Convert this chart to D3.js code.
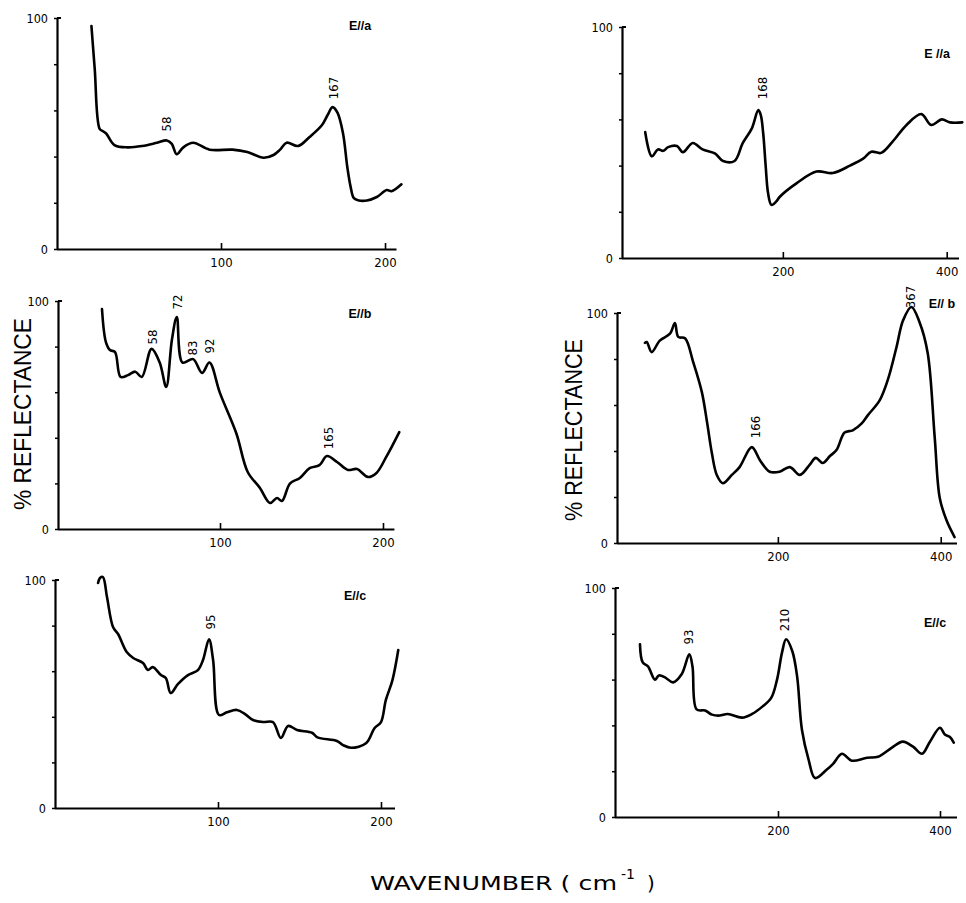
<!DOCTYPE html>
<html><head><meta charset="utf-8">
<script src="https://cdn.jsdelivr.net/npm/d3@7"></script>
<style>
body{margin:0;background:#fff;}
svg{display:block;}
text{fill:#000;}
</style></head>
<body>
<svg id="chart" width="966" height="903"></svg>
<script>
// ---------- DATA (wavenumber cm^-1, % reflectance) ----------
const waveLeftA = [21, 23, 26, 28, 30, 35, 43, 52, 61, 67, 70, 73, 77, 83, 93, 107, 116, 126, 132, 136, 140, 147, 154, 161.6, 165, 168, 171, 174.4, 177, 179, 181, 184, 189, 195, 201, 204, 210];
const reflLeftA = [96.5, 78, 52, 51, 50, 45, 44, 44.6, 46, 47, 45.5, 41, 44, 46, 43, 43, 42, 39.5, 40.7, 43, 46, 44.6, 48.5, 53.7, 58, 61.4, 59, 50, 35.5, 27, 22, 21, 21, 22.5, 25.5, 25, 28];

const waveRightA = [32, 40, 47.6, 54, 60, 70.7, 78, 90, 102, 117, 127, 141, 151, 162, 170, 173, 176, 179, 182, 186, 192, 196, 217, 241, 261, 282, 298, 308, 320, 334, 351, 369, 381, 394, 404, 419];
const reflRightA = [54.5, 44, 47, 46.4, 48, 48.5, 45.8, 49.8, 47, 45.3, 42, 42, 49.7, 56, 64, 62, 54, 40, 28, 23, 24.5, 26.4, 32.4, 37.4, 36.8, 40, 43, 46, 45.5, 50.4, 57.6, 62.3, 57.6, 60, 58.7, 58.7];

const waveLeftB = [27.6, 30, 32.5, 35.6, 39, 43.6, 48, 52, 58, 63, 67, 70.5, 73.5, 77, 83.5, 89, 93.5, 100, 110, 117, 124.5, 130.7, 135, 138, 143, 149, 155, 161, 165.6, 171.8, 178.5, 184, 190.8, 196, 202, 210];
const reflLeftB = [96.5, 82, 78.5, 77.6, 66.7, 67.5, 69, 66.7, 79, 73, 62.3, 83, 93, 73, 74.5, 68.4, 73, 59.6, 42, 25, 18, 11.4, 13.6, 12.3, 20, 22.4, 26.7, 28, 32, 29.4, 25.9, 26.3, 22.8, 24.6, 31.6, 42.5];

const waveRightB = [36.8, 39, 45, 55, 67.5, 73.6, 77.7, 86, 96, 106.6, 113, 119, 125, 132.5, 143.5, 153, 168, 178, 190, 202, 214.7, 227, 239, 246.6, 255, 264, 272, 282, 292, 303, 310.6, 325, 335, 345.6, 353.8, 364, 374, 384, 392.6, 398.8, 407, 417];
const reflRightB = [87, 87.4, 83, 88, 91, 95.6, 89.6, 89, 78.7, 65.7, 52.6, 39, 29.6, 26, 29.6, 33, 41.7, 36, 31, 31, 33, 29.6, 34, 37, 34.8, 37.8, 40.4, 48, 49, 52, 55.6, 62, 70.9, 85, 96.8, 102.6, 96, 82.6, 46, 19.6, 10, 2.6];

const waveLeftC = [26.4, 27.6, 29.4, 31.9, 35.6, 38.7, 44, 48, 54, 57, 60, 65, 68, 71, 75.5, 81.6, 87.7, 90.8, 94.5, 97, 100.6, 105.5, 111.6, 116.6, 121.5, 127.6, 133.7, 138.6, 143, 148.5, 157.7, 161, 173, 176.7, 181.6, 191, 196, 200, 203, 207, 210.6];
const reflLeftC = [98.7, 100.9, 101.3, 92.5, 79.4, 76.3, 68.4, 65.8, 63.6, 60.5, 61.8, 58.3, 57, 50.4, 54.4, 58.3, 60.5, 64.9, 74, 64.9, 40.8, 42, 43, 41.2, 38.6, 37.7, 37.7, 30.7, 36, 34.2, 33, 31, 29.4, 27.6, 26.4, 28.5, 35, 37.7, 47.4, 56, 69.3];

const waveRightC = [29.6, 33, 39.5, 48, 53, 60.5, 70.4, 81, 90.5, 94.4, 99.5, 110, 118.5, 128, 138, 155.6, 168, 180.7, 191.6, 198.8, 205, 210, 217.7, 223.6, 229.6, 237.8, 245.8, 260, 268, 279, 291, 310, 323.5, 340.7, 354, 366.7, 377.8, 387.6, 400, 406, 412, 417];
const reflRightC = [75.4, 67.5, 65.8, 60, 61.8, 61, 58.8, 62.3, 71, 65.8, 47, 46.5, 44.7, 44.3, 45, 43.4, 45, 48.2, 52, 60, 71.9, 77.6, 72.4, 61.4, 38, 25, 17, 20.6, 23.2, 27.6, 24.6, 25.9, 26.3, 30.3, 32.9, 30.7, 27.6, 32.9, 39, 36, 35, 32.5];

const xTicksLeft = [100, 200];
const xTicksRight = [200, 400];
const yTicks = [0, 20, 40, 60, 80, 100];
const yTickLabels = {0: "0", 100: "100"};

const panelTitles = ["E//a", "E //a", "E//b", "E// b", "E//c", "E//c"];
const peaksLeftA = ["58", "167"];
const peaksRightA = ["168"];
const peaksLeftB = ["58", "72", "83", "92", "165"];
const peaksRightB = ["166", "367"];
const peaksLeftC = ["95"];
const peaksRightC = ["93", "210"];

const yTitle = "% REFLECTANCE";
const xTitle = "WAVENUMBER ( cm";
const xTitleSup = "-1";
const xTitleEnd = ")";

// ---------- LAYOUT ----------
const svg = d3.select("#chart");
const tickFont = "'Liberation Sans Narrow','DejaVu Sans Condensed','Liberation Sans',sans-serif";
const labelFont = "'Liberation Sans','DejaVu Sans',sans-serif";

const panels = [
  {wave: waveLeftA, refl: reflLeftA, xd: [0, 207], xr: [57, 396.5], yr: [249, 18], yAxisX: 57, xticks: xTicksLeft,
   title: panelTitles[0], tpos: [360, 30], peaks: peaksLeftA, ppos: [[166, 124], [333, 88]]},
  {wave: waveRightA, refl: reflRightA, xd: [0, 415], xr: [619, 959], yr: [258, 27], yAxisX: 622, xticks: xTicksRight,
   title: panelTitles[1], tpos: [937, 58], peaks: peaksRightA, ppos: [[762, 88]]},
  {wave: waveLeftB, refl: reflLeftB, xd: [0, 207], xr: [57, 394.4], yr: [529, 301], yAxisX: 58, xticks: xTicksLeft,
   title: panelTitles[2], tpos: [360, 318], peaks: peaksLeftB, ppos: [[152, 337], [177, 302], [192, 348], [209, 346], [328, 438]]},
  {wave: waveRightB, refl: reflRightB, xd: [0, 420], xr: [615, 957], yr: [543, 313], yAxisX: 617, xticks: xTicksRight,
   title: panelTitles[3], tpos: [942, 308], peaks: peaksRightB, ppos: [[755, 427], [910, 297]]},
  {wave: waveLeftC, refl: reflLeftC, xd: [0, 208.6], xr: [55, 395], yr: [808, 580], yAxisX: 55, xticks: xTicksLeft,
   title: panelTitles[4], tpos: [355, 600], peaks: peaksLeftC, ppos: [[210, 622]]},
  {wave: waveRightC, refl: reflRightC, xd: [0, 421], xr: [616, 957], yr: [817, 588], yAxisX: 615, xticks: xTicksRight,
   title: panelTitles[5], tpos: [935, 627], peaks: peaksRightC, ppos: [[688, 637], [784, 620]]}
];

panels.forEach(p => {
  const x = d3.scaleLinear().domain(p.xd).range(p.xr);
  const y = d3.scaleLinear().domain([0, 100]).range(p.yr);
  const g = svg.append("g");

  // x axis
  const xAxis = d3.axisBottom(x).tickValues(p.xticks).tickSizeInner(-6).tickSizeOuter(0).tickPadding(9)
    .tickFormat(d3.format("d"));
  const gx = g.append("g").attr("transform", `translate(0,${p.yr[0]})`).call(xAxis);
  gx.select(".domain").attr("stroke", "#000").attr("stroke-width", 2.2)
    .attr("d", `M${p.yAxisX},0.5H${p.xr[1]}`);
  gx.selectAll(".tick line").attr("stroke", "#000").attr("stroke-width", 1.6);
  gx.selectAll(".tick text").attr("font-family", tickFont).attr("font-size", 13).attr("fill", "#000");

  // y axis
  const yAxis = d3.axisLeft(y).tickValues(yTicks).tickSizeInner(3).tickSizeOuter(0).tickPadding(6)
    .tickFormat(d => yTickLabels[d] || "");
  const gy = g.append("g").attr("transform", `translate(${p.yAxisX},0)`).call(yAxis);
  gy.select(".domain").attr("stroke", "#000").attr("stroke-width", 2.2);
  gy.selectAll(".tick line").attr("stroke", "#000").attr("stroke-width", 1.5);
  gy.selectAll(".tick text").attr("font-family", tickFont).attr("font-size", 12.5).attr("fill", "#000");
  // small top cap pointing right
  g.append("line").attr("x1", p.yAxisX).attr("x2", p.yAxisX + 4)
    .attr("y1", y(100)).attr("y2", y(100)).attr("stroke", "#000").attr("stroke-width", 2);

  // curve
  const pts = p.wave.map((w, i) => [w, p.refl[i]]);
  const line = d3.line().x(d => x(d[0])).y(d => y(d[1])).curve(d3.curveCatmullRom.alpha(0.5));
  g.append("path").datum(pts).attr("d", line).attr("fill", "none")
    .attr("stroke", "#000").attr("stroke-width", 2.6).attr("stroke-linejoin", "round").attr("stroke-linecap", "round");

  // title
  g.append("text").attr("x", p.tpos[0]).attr("y", p.tpos[1]).attr("text-anchor", "middle")
    .attr("font-family", labelFont).attr("font-weight", "bold").attr("font-size", 12.5).text(p.title);

  // peak labels (rotated)
  p.peaks.forEach((lab, i) => {
    const [px, py] = p.ppos[i];
    g.append("text").attr("transform", `translate(${px},${py}) rotate(-90)`)
      .attr("text-anchor", "middle").attr("dominant-baseline", "central")
      .attr("font-family", tickFont).attr("font-size", 13).text(lab);
  });
});

// axis titles
[[22, 414, 192], [573, 430, 182]].forEach(([cx, cy, len]) => {
  svg.append("text").attr("transform", `translate(${cx},${cy}) rotate(-90)`)
    .attr("text-anchor", "middle").attr("dominant-baseline", "central")
    .attr("font-family", labelFont).attr("font-size", 24)
    .attr("textLength", len).attr("lengthAdjust", "spacingAndGlyphs").text(yTitle);
});

const xFont = "'DejaVu Sans','Liberation Sans',sans-serif";
svg.append("text").attr("x", 370).attr("y", 890)
  .attr("font-family", xFont).attr("font-size", 20)
  .attr("textLength", 247).attr("lengthAdjust", "spacingAndGlyphs").text(xTitle);
svg.append("text").attr("x", 621).attr("y", 879)
  .attr("font-family", xFont).attr("font-size", 14).text(xTitleSup);
svg.append("text").attr("x", 647).attr("y", 890)
  .attr("font-family", xFont).attr("font-size", 20).text(xTitleEnd);
</script>
</body></html>
